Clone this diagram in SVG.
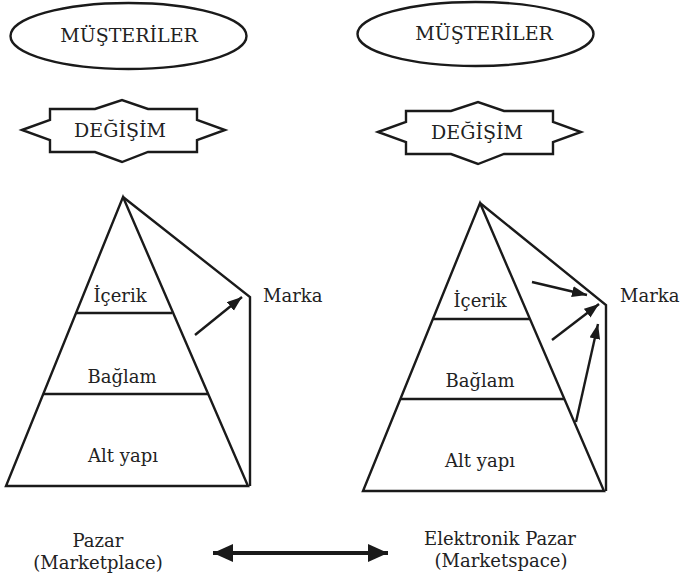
<svg xmlns="http://www.w3.org/2000/svg" width="682" height="579" viewBox="0 0 682 579">
<style>
.s{fill:#fff;stroke:#1a1a1a;stroke-width:2.4;stroke-linejoin:miter}
.l{fill:none;stroke:#1a1a1a;stroke-width:2.4}
.t{font-family:"DejaVu Serif","Liberation Serif",serif;font-size:18px;fill:#222;text-anchor:middle}
.c{font-size:19px}
.a{fill:none;stroke:#1a1a1a;stroke-width:2.4}
.d{fill:none;stroke:#1a1a1a;stroke-width:4}
</style>
<defs>
<marker id="ah" markerUnits="userSpaceOnUse" markerWidth="16" markerHeight="12" refX="15" refY="5.5" orient="auto">
<path d="M0,0 L15,5.5 L0,11 z" fill="#1a1a1a"/>
</marker>
<marker id="bh" markerUnits="userSpaceOnUse" markerWidth="22" markerHeight="20" refX="20" refY="9" orient="auto-start-reverse">
<path d="M0,0 L20,9 L0,18 z" fill="#1a1a1a"/>
</marker>
</defs>
<rect width="682" height="579" fill="#fff"/>

<g id="musteriler-left">
<ellipse class="s" cx="128.5" cy="36" rx="118" ry="33"/>
<text class="t c" x="129" y="42">MÜŞTERİLER</text>
</g>
<g id="musteriler-right">
<ellipse class="s" cx="475.5" cy="34" rx="118" ry="32"/>
<text class="t c" x="484" y="40">MÜŞTERİLER</text>
</g>

<g id="degisim-left">
<path class="s" d="M22,130 L50,120 L50,109 L95,109 L122,100 L148,109 L197,109 L197,120 L225,130 L197,140 L197,152 L148,152 L122,162 L95,152 L50,152 L50,140 Z"/>
<text class="t c" x="120" y="137">DEĞİŞİM</text>
</g>
<g id="degisim-right">
<path class="s" d="M378,132 L406,122 L406,111 L451,111 L478,102 L504,111 L553,111 L553,122 L581,132 L553,142 L553,154 L504,154 L478,164 L451,154 L406,154 L406,142 Z"/>
<text class="t c" x="477" y="139">DEĞİŞİM</text>
</g>

<g id="pyramid-left">
<path class="l" d="M123,197 L250,297 L250,486"/>
<path class="s" d="M123,197 L248,486 L6,486 Z"/>
<line class="l" x1="76" y1="313" x2="172" y2="313"/>
<line class="l" x1="43" y1="394" x2="208" y2="394"/>
<text class="t" x="120" y="302">İçerik</text>
<text class="t" x="122" y="383">Bağlam</text>
<text class="t" x="123" y="462">Alt yapı</text>
</g>
<g id="marka-left">
<text class="t" x="263" y="302" style="text-anchor:start">Marka</text>
</g>

<g id="pyramid-right">
<path class="l" d="M480,203 L606,305 L606,491"/>
<path class="s" d="M480,203 L604,491 L363,491 Z"/>
<line class="l" x1="433" y1="319" x2="530" y2="319"/>
<line class="l" x1="401" y1="399" x2="564" y2="399"/>
<text class="t" x="480" y="307">İçerik</text>
<text class="t" x="480" y="387">Bağlam</text>
<text class="t" x="480" y="467">Alt yapı</text>
</g>
<g id="marka-right">
<text class="t" x="620" y="302" style="text-anchor:start">Marka</text>
</g>

<g id="pazar">
<text class="t" x="98" y="547">Pazar</text>
<text class="t" x="98" y="569">(Marketplace)</text>
</g>
<g id="elektronik-pazar">
<text class="t" x="500" y="545">Elektronik Pazar</text>
<text class="t" x="501" y="567">(Marketspace)</text>
</g>

<g id="connectors">
<line class="a" x1="195" y1="335" x2="242" y2="297" marker-end="url(#ah)"/>
<line class="a" x1="532" y1="282" x2="587" y2="295" marker-end="url(#ah)"/>
<line class="a" x1="552" y1="340" x2="599" y2="304" marker-end="url(#ah)"/>
<line class="a" x1="576" y1="422" x2="598" y2="324" marker-end="url(#ah)"/>
<line class="d" x1="213" y1="553" x2="388" y2="553" marker-start="url(#bh)" marker-end="url(#bh)"/>
</g>
</svg>
